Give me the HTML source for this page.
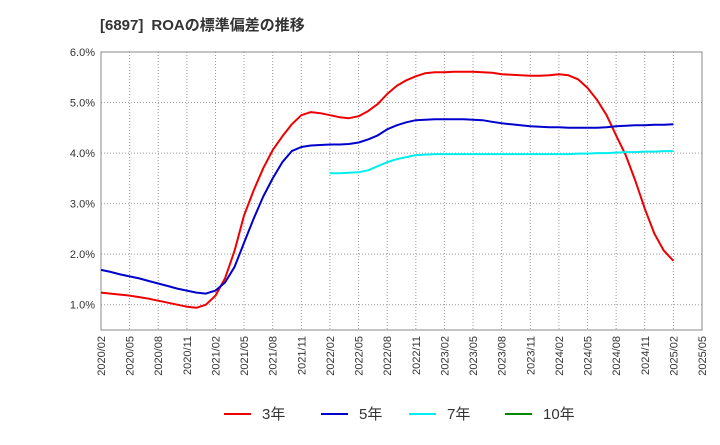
<!DOCTYPE html>
<html><head><meta charset="utf-8"><style>
body{margin:0;background:#fff;font-family:"Liberation Sans","Noto Sans CJK JP",sans-serif;}
</style></head><body>
<svg id="chart" width="720" height="440" xmlns="http://www.w3.org/2000/svg" font-family="Liberation Sans, Noto Sans CJK JP, sans-serif">
<text x="100" y="30" font-size="15" font-weight="bold" fill="#333">[6897]<tspan dx="8">ROAの標準偏差の推移</tspan></text>
<g id="grid"></g><g id="axes"></g><g id="series"></g>
<g font-size="15" fill="#333">
<line x1="224" y1="414" x2="251" y2="414" stroke="#e00" stroke-width="2"/><text x="262" y="419">3年</text>
<line x1="321" y1="414" x2="348" y2="414" stroke="#00c" stroke-width="2"/><text x="359" y="419">5年</text>
<line x1="409" y1="414" x2="436" y2="414" stroke="#0ee" stroke-width="2"/><text x="447" y="419">7年</text>
<line x1="505" y1="414" x2="532" y2="414" stroke="#080" stroke-width="2"/><text x="543" y="419">10年</text>
</g>
</svg>
<script>
const xTickLabels=["2020/02","2020/05","2020/08","2020/11","2021/02","2021/05","2021/08","2021/11","2022/02","2022/05","2022/08","2022/11","2023/02","2023/05","2023/08","2023/11","2024/02","2024/05","2024/08","2024/11","2025/02","2025/05"];
const yTickValues=[1,2,3,4,5,6];
const red3=[1.24,1.22,1.20,1.18,1.15,1.12,1.08,1.04,1.00,0.96,0.94,
1.00,1.18,1.52,2.07,2.77,3.26,3.70,4.06,4.33,4.57,4.75,4.81,
4.79,4.75,4.71,4.69,4.73,4.83,4.97,5.17,5.33,5.44,5.52,5.58,
5.60,5.60,5.61,5.61,5.61,5.60,5.59,5.56,5.55,5.54,5.53,5.53,
5.54,5.56,5.54,5.46,5.29,5.05,4.75,4.35,3.96,3.46,2.90,2.41,
2.07,1.87];
const blue5=[1.69,1.65,1.60,1.56,1.52,1.47,1.42,1.37,1.32,1.28,1.24,
1.22,1.28,1.44,1.75,2.23,2.70,3.14,3.50,3.82,4.04,4.12,4.15,
4.16,4.17,4.17,4.18,4.21,4.27,4.35,4.47,4.55,4.61,4.65,4.66,
4.67,4.67,4.67,4.67,4.66,4.65,4.62,4.59,4.57,4.55,4.53,4.52,
4.51,4.51,4.50,4.50,4.50,4.50,4.51,4.53,4.54,4.55,4.55,4.56,
4.56,4.57];
const cyan7=[3.60,3.60,3.61,3.62,3.66,3.74,3.82,3.88,3.92,3.96,3.97,
3.98,3.98,3.98,3.98,3.98,3.98,3.98,3.98,3.98,3.98,3.98,3.98,
3.98,3.98,3.98,3.99,3.99,4.00,4.00,4.01,4.02,4.02,4.03,4.03,
4.04,4.04];
const cyanStart=24;
const X0=101,X1=702,Y0=52,Y1=330,YMIN=0.5,YMAX=6,NM=63;
const xs=i=>X0+(X1-X0)*i/NM;
const ys=v=>Y0+(YMAX-v)/(YMAX-YMIN)*(Y1-Y0);
const NS="http://www.w3.org/2000/svg";
function mk(tag,attrs,parent){const e=document.createElementNS(NS,tag);for(const k in attrs)e.setAttribute(k,attrs[k]);parent.appendChild(e);return e;}
const grid=document.getElementById('grid'),axes=document.getElementById('axes'),ser=document.getElementById('series');
xTickLabels.forEach((l,i)=>{const x=xs(i*3);
 const g=mk('line',{x1:x,y1:Y0,x2:x,y2:Y1,stroke:'#999','stroke-dasharray':'1,2','stroke-width':1},grid);
 
 const t=mk('text',{x:0,y:0,'font-size':11,fill:'#333','text-anchor':'end',transform:`translate(${x+4},${Y1+6}) rotate(-90)`},axes);
 t.textContent=l;});
yTickValues.forEach(v=>{const y=ys(v);
 const g=mk('line',{x1:X0,y1:y,x2:X1,y2:y,stroke:'#999','stroke-dasharray':'1,2','stroke-width':1},grid);
 
 const t=mk('text',{x:X0-6,y:y+4,'font-size':11,fill:'#333','text-anchor':'end'},axes);
 t.textContent=v.toFixed(1)+'%';});
const fr=mk('rect',{x:X0,y:Y0,width:X1-X0,height:Y1-Y0,fill:'none',stroke:'#888'},axes);

function line(vals,start,color,name){const p=vals.map((v,i)=>xs(start+i).toFixed(1)+','+ys(v).toFixed(1)).join(' ');
 const e=mk('polyline',{points:p,fill:'none',stroke:color,'stroke-width':2,'stroke-linejoin':'round'},ser);
 }
line(red3,0,'#e00','series-3y');
line(blue5,0,'#00c','series-5y');
line(cyan7,cyanStart,'#0ee','series-7y');
</script>
</body></html>
